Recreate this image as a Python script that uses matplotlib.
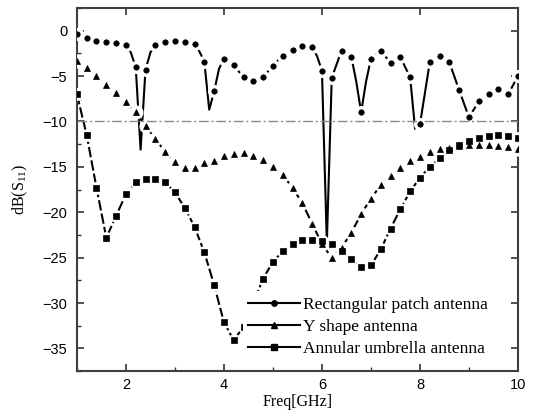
import numpy as np
import matplotlib
matplotlib.use("Agg")
import matplotlib.pyplot as plt
from matplotlib.lines import Line2D
from matplotlib.ticker import MultipleLocator

plt.rcParams['font.family'] = 'Liberation Sans'
plt.rcParams['mathtext.fontset'] = 'custom'
plt.rcParams['mathtext.rm'] = 'Liberation Serif'
plt.rcParams['xtick.direction'] = 'in'
plt.rcParams['ytick.direction'] = 'in'

# marker positions (GHz)
freq = [1.0, 1.2, 1.4, 1.6, 1.8, 2.0, 2.2, 2.4, 2.6, 2.8,
        3.0, 3.2, 3.4, 3.6, 3.8, 4.0, 4.2, 4.4, 4.6, 4.8,
        5.0, 5.2, 5.4, 5.6, 5.8, 6.0, 6.2, 6.4, 6.6, 6.8,
        7.0, 7.2, 7.4, 7.6, 7.8, 8.0, 8.2, 8.4, 8.6, 8.8,
        9.0, 9.2, 9.4, 9.6, 9.8, 10.0]

# Rectangular patch antenna
rect_s11 = [-0.4, -0.8, -1.1, -1.3, -1.4, -1.6, -4.0, -4.3, -1.6, -1.2,
            -1.1, -1.2, -1.5, -3.4, -6.7, -3.1, -3.8, -5.15, -5.6, -5.15,
            -3.85, -2.75, -2.1, -1.7, -1.85, -4.4, -5.2, -2.2, -2.9, -9.0,
            -3.1, -2.2, -3.55, -2.9, -5.15, -10.3, -3.5, -2.75, -3.5, -6.55,
            -9.55, -7.8, -7.0, -6.4, -7.0, -5.0]
# sweep points between markers (no symbol drawn)
rect_x_extra = [2.1, 2.3, 2.5, 3.5, 3.7, 3.9, 5.9, 6.1, 6.3, 6.7, 6.9, 7.9]
rect_y_extra = [-2.4, -13.1, -2.4, -2.3, -8.7, -4.2, -2.8, -23.4, -3.7, -5.6, -5.6, -10.8]

# Y shape antenna
yshape_s11 = [-3.3, -4.1, -5.0, -6.0, -6.9, -7.9, -9.0, -10.5, -11.9, -13.35,
              -14.5, -15.1, -15.1, -14.6, -14.3, -13.8, -13.55, -13.5, -13.75, -14.2,
              -15.0, -15.9, -17.3, -19.0, -21.25, -23.5, -25.0, -23.9, -22.25, -20.2,
              -18.5, -17.0, -16.0, -15.15, -14.4, -13.9, -13.35, -13.05, -12.95, -12.7,
              -12.6, -12.6, -12.6, -12.7, -12.8, -13.05]

# Annular umbrella antenna
umbrella_s11 = [-7.0, -11.5, -17.3, -22.8, -20.4, -18.0, -16.7, -16.3, -16.3, -16.7,
                -17.8, -19.5, -21.6, -24.4, -28.0, -32.1, -34.1, -32.6, -30.0, -27.3,
                -25.45, -24.3, -23.5, -23.1, -23.0, -23.2, -23.5, -24.3, -25.2, -26.0,
                -25.85, -24.1, -21.8, -19.65, -17.7, -16.2, -15.0, -14.05, -13.15, -12.55,
                -12.2, -11.85, -11.6, -11.5, -11.6, -11.8]

labels = ['Rectangular patch antenna', 'Y shape antenna', 'Annular umbrella antenna']
ref_level = -10

fig = plt.figure(figsize=(5.34, 4.18), dpi=100)
ax = fig.add_axes([0.144, 0.112, 0.826, 0.869])

series = [
    (freq + rect_x_extra, rect_s11 + rect_y_extra, rect_s11, 'o', 3.9, '-'),
    (freq, yshape_s11, yshape_s11, '^', 4.6, '-'),
    (freq, umbrella_s11, umbrella_s11, 's', 3.7, (0, (5, 1.5))),
]

for xs, ys, ym, mk, ms, ls in series:
    order = np.argsort(xs)
    ax.plot(np.array(xs)[order], np.array(ys)[order], color='black', lw=1.5, ls=ls, zorder=2)

# gap between line and symbol (white halo)
for xs, ys, ym, mk, ms, ls in series:
    ax.plot(freq, ym, ls='none', marker='o', ms=ms + 5.5,
            mfc='white', mec='none', zorder=3)

ax.axhline(ref_level, color='#8a8a8a', lw=1.0, ls=(0, (7, 2, 1.5, 2)), zorder=3.5)

for xs, ys, ym, mk, ms, ls in series:
    ax.plot(freq, ym, ls='none', marker=mk, ms=ms,
            mfc='black', mec='black', mew=0.5, zorder=4)

ax.set_xlim(1, 10)
ax.set_ylim(-37.5, 2.5)
ax.xaxis.set_major_locator(MultipleLocator(2))
ax.xaxis.set_minor_locator(MultipleLocator(1))
ax.yaxis.set_major_locator(MultipleLocator(5))
ax.yaxis.set_minor_locator(MultipleLocator(2.5))
ax.tick_params(which='major', length=5, width=1.2, labelsize=10.5, top=True, right=True, colors='#333333')
ax.tick_params(which='minor', length=3, width=1.0, top=False, right=False, colors='#333333')
ax.tick_params(axis='x', which='major', pad=5, labelcolor='black')
ax.tick_params(axis='y', which='major', pad=7, labelcolor='black')
for sp in ax.spines.values():
    sp.set_linewidth(1.5)
    sp.set_color('#404040')

ax.set_xlabel('Freq[GHz]', family='Liberation Serif', fontsize=11.5, labelpad=1)
ax.set_ylabel(r'dB(S$_{\mathrm{11}}$)', family='Liberation Serif', fontsize=11.5, labelpad=9)

handles = [Line2D([], [], color='black', lw=1.5, marker=m, ms=s)
           for m, s in zip(['o', '^', 's'], [3.9, 4.6, 3.7])]
leg = ax.legend(handles, labels, loc='lower left', bbox_to_anchor=(0.357, 0.0),
                frameon=True, framealpha=1, facecolor='white', edgecolor='none',
                fancybox=False, handlelength=3.0, handletextpad=0.15,
                labelspacing=0.35, borderpad=0.3,
                prop={'family': 'Liberation Serif', 'size': 12.5})
leg.set_zorder(5)

fig.savefig('out.png', dpi=100)
